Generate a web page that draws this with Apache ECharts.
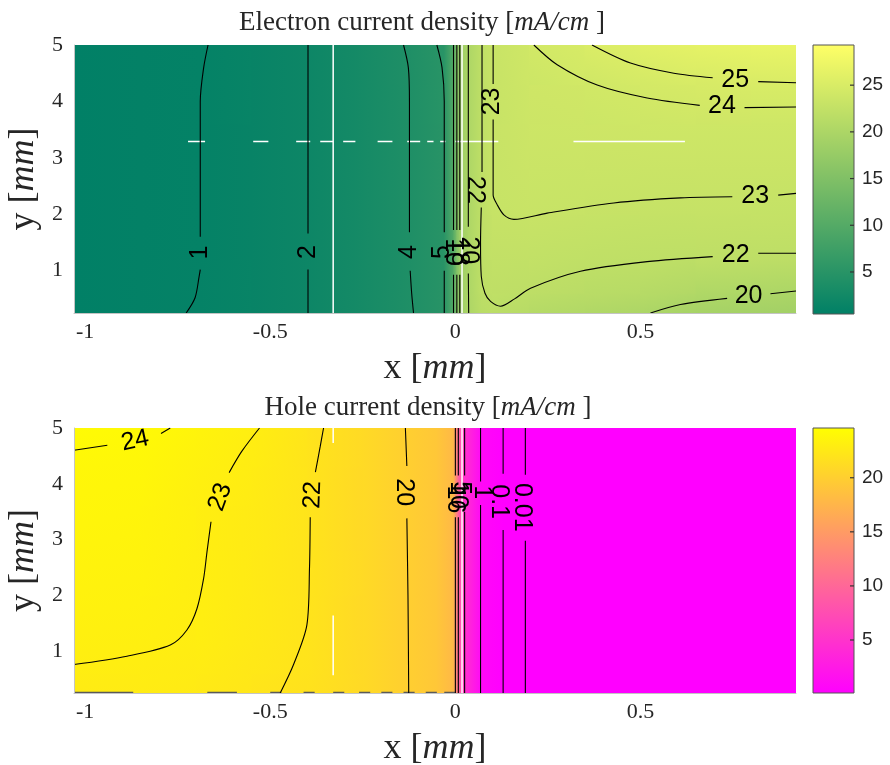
<!DOCTYPE html>
<html>
<head>
<meta charset="utf-8">
<title>Current density</title>
<style>
  html, body { margin: 0; padding: 0; background: #fff; }
  #main { width: 890px; height: 765px; }
</style>
</head>
<body>
<div id="main"></div>
<script src="https://cdn.jsdelivr.net/npm/echarts@6.0.0/dist/echarts.min.js"></script>
<script>
// ---------- electron current density ----------
var elecX = [-1.03, -0.85, -0.69, -0.55, -0.40, -0.26, -0.12, -0.03, -0.005, 0.004, 0.012, 0.035, 0.07, 0.10, 0.20, 0.35, 0.50, 0.65, 0.80, 0.92];
var elecY = [0.25, 0.6, 1.2, 2.0, 2.8, 3.6, 4.3, 5.0];
var elecZ = [
  [0.6, 0.8, 1.1, 1.4, 2.0, 2.9, 3.95, 5.0, 10, 15, 18, 20, 21.4, 21.7, 21.0, 20.5, 19.9, 19.3, 19.0, 18.8],
  [0.6, 0.8, 1.05, 1.4, 2.0, 2.9, 3.97, 5.0, 10, 15, 18, 20, 21.9, 22.1, 21.9, 21.4, 21.2, 20.4, 20.15, 19.9],
  [0.6, 0.8, 1.0, 1.4, 2.0, 2.9, 4.0, 5.0, 10, 15, 18, 20, 22.0, 22.4, 22.4, 22.2, 22.05, 21.98, 21.9, 21.85],
  [0.6, 0.8, 1.0, 1.4, 2.0, 2.9, 4.0, 5.0, 10, 15, 18, 20, 22.0, 22.9, 23.05, 22.9, 22.8, 22.75, 22.7, 22.65],
  [0.6, 0.8, 1.0, 1.4, 2.0, 2.9, 4.0, 5.0, 10, 15, 18, 20, 22.0, 23.0, 23.3, 23.3, 23.3, 23.3, 23.3, 23.28],
  [0.6, 0.8, 1.0, 1.4, 2.0, 2.9, 4.0, 5.0, 10, 15, 18, 20, 22.0, 23.0, 23.55, 23.65, 23.74, 23.8, 23.82, 23.8],
  [0.6, 0.8, 0.98, 1.4, 2.0, 2.9, 4.03, 5.02, 10, 15, 18, 20, 22.0, 23.0, 23.75, 23.97, 24.35, 24.7, 24.9, 24.93],
  [0.6, 0.8, 0.96, 1.4, 2.0, 2.9, 4.1, 5.1, 10, 15, 18, 20, 22.0, 23.1, 23.95, 24.95, 25.8, 26.4, 26.8, 27.0]
];
var elecRange = [0.5, 29.3];
var elecTicks = [5, 10, 15, 20, 25];

// contour lines, null = gap for the inline label
var eC1 = [[-0.668, 5.0], [-0.680, 4.59], [-0.689, 4.0], [-0.689, 1.6], null, [-0.689, 1.02], [-0.692, 0.9], [-0.703, 0.52], [-0.727, 0.25]];
var eC2 = [[-0.398, 5.0], [-0.398, 1.66], null, [-0.398, 1.02], [-0.398, 0.25]];
var eC4 = [[-0.14, 5.0], [-0.127, 4.6], [-0.124, 4.0], [-0.124, 1.68], null, [-0.122, 1.0], [-0.118, 0.6], [-0.113, 0.25]];
var eC5 = [[-0.05, 5.0], [-0.036, 4.6], [-0.03, 4.0], [-0.03, 1.68], null, [-0.03, 1.0], [-0.03, 0.25]];
var eC10 = [[-0.005, 5.0], [-0.005, 1.72], null, [-0.005, 0.93], [-0.005, 0.25]];
var eC15 = [[0.004, 5.0], [0.004, 1.72], null, [0.004, 0.93], [0.004, 0.25]];
var eC18 = [[0.012, 5.0], [0.012, 1.72], null, [0.012, 0.93], [0.012, 0.25]];
var eC20a = [[0.035, 5.0], [0.035, 1.78], null, [0.035, 0.95], [0.036, 0.25]];
var eC20b = [[0.527, 0.25], [0.608, 0.40], [0.734, 0.51], null, [0.851, 0.59], [0.92, 0.64]];
var eC22 = [[0.072, 5.0], [0.072, 2.75], null, [0.07, 2.12], [0.068, 1.5], [0.07, 0.9], [0.08, 0.6], [0.095, 0.455], [0.122, 0.37], [0.16, 0.5], [0.203, 0.69], [0.338, 0.99], [0.518, 1.16], [0.695, 1.25], null, [0.818, 1.31], [0.92, 1.31]];
var eC23 = [[0.102, 5.0], [0.102, 4.31], null, [0.102, 3.68], [0.102, 2.34], [0.113, 2.17], [0.131, 1.99], [0.158, 1.91], [0.248, 2.02], [0.428, 2.20], [0.608, 2.29], [0.748, 2.31], null, [0.872, 2.34], [0.92, 2.37]];
var eC24 = [[0.212, 5.0], [0.275, 4.65], [0.383, 4.29], [0.518, 4.06], [0.66, 3.93], null, [0.781, 3.89], [0.92, 3.90]];
var eC25 = [[0.369, 5.0], [0.473, 4.68], [0.59, 4.5], [0.695, 4.42], null, [0.818, 4.35], [0.92, 4.33]];
// [x, y, text, angle]
var eLabels = [
  [-0.689, 1.32, '1', 90], [-0.398, 1.33, '2', 90], [-0.124, 1.33, '4', 90], [-0.036, 1.33, '5', 90],
  [-0.006, 1.33, '10', -90], [0.010, 1.33, '18', -90], [0.036, 1.36, '20', -90],
  [0.054, 2.43, '22', -90], [0.100, 4.0, '23', 90],
  [0.756, 4.38, '25', 0], [0.72, 3.91, '24', 0], [0.81, 2.32, '23', 0], [0.757, 1.28, '22', 0], [0.792, 0.55, '20', 0]
];
// white rendering streaks seen in the original
var eWhite = [[-0.33, 0.25], [-0.33, 5.0], null, [0.018, 0.25], [0.018, 5.0]];
var eWhiteDash = [[-0.722, 3.29], [-0.676, 3.29], null, [-0.546, 3.29], [-0.505, 3.29], null, [-0.43, 3.29], [-0.392, 3.29], null,
  [-0.365, 3.29], [-0.33, 3.29], null, [-0.303, 3.29], [-0.27, 3.29], null, [-0.21, 3.29], [-0.17, 3.29], null,
  [-0.13, 3.29], [-0.095, 3.29], null, [-0.076, 3.29], [-0.059, 3.29], null, [-0.041, 3.29], [-0.027, 3.29], null,
  [0.0, 3.29], [0.116, 3.29], null, [0.319, 3.29], [0.62, 3.29]];

// ---------- hole current density ----------
var holeX = [-1.03, -0.85, -0.70, -0.55, -0.40, -0.25, -0.13, -0.05, -0.005, 0.0, 0.008, 0.025, 0.068, 0.129, 0.189, 0.30, 0.92];
var holeY = [0.25, 0.6, 1.2, 2.0, 2.8, 3.6, 4.3, 5.0];
var holeZ = [
  [22.75, 22.7, 22.55, 22.15, 21.75, 21.0, 20.0, 19.2, 17.8, 15, 10, 5, 1, 0.1, 0.01, 0, 0],
  [22.9, 22.85, 22.7, 22.35, 21.9, 21.0, 20.0, 19.2, 17.8, 15, 10, 5, 1, 0.1, 0.01, 0, 0],
  [23.15, 23.1, 22.95, 22.5, 21.98, 21.0, 20.0, 19.2, 17.8, 15, 10, 5, 1, 0.1, 0.01, 0, 0],
  [23.35, 23.3, 23.02, 22.55, 22.0, 21.0, 20.0, 19.2, 17.8, 15, 10, 5, 1, 0.1, 0.01, 0, 0],
  [23.5, 23.45, 23.05, 22.6, 22.0, 21.0, 20.0, 19.2, 17.8, 15, 10, 5, 1, 0.1, 0.01, 0, 0],
  [23.7, 23.6, 23.1, 22.65, 22.02, 21.0, 20.0, 19.2, 17.8, 15, 10, 5, 1, 0.1, 0.01, 0, 0],
  [23.85, 23.8, 23.3, 22.8, 22.05, 21.0, 20.0, 19.2, 17.8, 15, 10, 5, 1, 0.1, 0.01, 0, 0],
  [24.3, 24.1, 23.6, 23.0, 22.05, 21.0, 20.0, 19.2, 17.8, 15, 10, 5, 1, 0.1, 0.01, 0, 0]
];
var holeRange = [0.1, 24.6];
var holeTicks = [5, 10, 15, 20];

var hC24 = [[-1.03, 4.60], [-0.94, 4.69], null, [-0.795, 4.9], [-0.77, 5.0]];
var hC23 = [[-1.03, 0.76], [-0.887, 0.91], [-0.77, 1.11], [-0.725, 1.38], [-0.698, 1.76], [-0.68, 2.30], [-0.671, 2.77], [-0.66, 3.32], null, [-0.611, 4.2], [-0.577, 4.58], [-0.529, 5.0]];
var hC22 = [[-0.473, 0.25], [-0.437, 0.76], [-0.401, 1.47], [-0.394, 2.48], [-0.392, 3.4], null, [-0.378, 4.21], [-0.365, 4.67], [-0.356, 5.0]];
var hC20 = [[-0.135, 5.0], [-0.131, 4.32], null, [-0.131, 3.38], [-0.128, 2.0], [-0.126, 0.25]];
var hC15 = [[0.0, 5.0], [0.0, 4.15], null, [0.0, 3.4], [0.0, 0.25]];
var hC10 = [[0.008, 5.0], [0.008, 4.15], null, [0.008, 3.4], [0.008, 0.25]];
var hC5 = [[0.025, 5.0], [0.025, 4.15], null, [0.025, 3.5], [0.025, 0.25]];
var hC1 = [[0.068, 5.0], [0.068, 4.04], null, [0.068, 3.62], [0.068, 0.25]];
var hC01 = [[0.129, 5.0], [0.129, 4.18], null, [0.129, 3.17], [0.129, 0.25]];
var hC001 = [[0.189, 5.0], [0.189, 4.16], null, [0.189, 2.98], [0.189, 0.25]];
var hLabels = [
  [-0.865, 4.77, '24', 12], [-0.635, 3.76, '23', 70], [-0.385, 3.8, '22', 88], [-0.14, 3.85, '20', -90],
  [-0.002, 3.72, '16', -90], [0.014, 3.92, '5', -90], [0.006, 3.8, '10', -90],
  [0.072, 3.85, '1', -90], [0.117, 3.68, '0.1', -90], [0.18, 3.58, '0.01', -90]
];
var hWhite = [[0.018, 0.25], [0.018, 5.0], null, [-0.33, 0.57], [-0.33, 1.64], null, [-0.33, 4.73], [-0.33, 5.0]];
// dark dashes along the lower edge of the hole plot
var hEdgeDash = [[-1.03, 0.26], [-0.87, 0.26], null, [-0.67, 0.26], [-0.59, 0.26], null, [-0.50, 0.26], [-0.47, 0.26], null,
  [-0.41, 0.26], [-0.38, 0.26], null, [-0.33, 0.26], [-0.30, 0.26], null, [-0.26, 0.26], [-0.23, 0.26], null,
  [-0.20, 0.26], [-0.17, 0.26], null, [-0.14, 0.26], [-0.11, 0.26], null, [-0.08, 0.26], [-0.05, 0.26], null,
  [-0.03, 0.26], [0.0, 0.26]];

var xRange = [-1.03, 0.92];
var yRange = [0.25, 5.0];
var xTicks = [-1, -0.5, 0, 0.5];
var yTicks = [1, 2, 3, 4, 5];

// ---------- colormaps (MATLAB summer / spring) ----------
function clamp01(t) { return t < 0 ? 0 : (t > 1 ? 1 : t); }
function summer(range) {
  return function (v) {
    var t = clamp01((v - range[0]) / (range[1] - range[0]));
    return 'rgb(' + Math.round(255 * t) + ',' + Math.round(255 * (0.5 + 0.5 * t)) + ',102)';
  };
}
function spring(range) {
  return function (v) {
    var t = clamp01((v - range[0]) / (range[1] - range[0]));
    return 'rgb(255,' + Math.round(255 * t) + ',' + Math.round(255 * (1 - t)) + ')';
  };
}

function cellData(xs, ys) {
  var out = [];
  for (var j = 0; j < ys.length - 1; j++) {
    for (var i = 0; i < xs.length - 1; i++) {
      out.push([xs[i], ys[j], xs[i + 1], ys[j + 1], i, j]);
    }
  }
  return out;
}

// filled field: each cell painted with a linear gradient along the local slope
function fieldSeries(xs, ys, zs, cmap, idx) {
  return {
    type: 'custom', xAxisIndex: idx, yAxisIndex: idx, silent: true, animation: false, z: 1, clip: true,
    data: cellData(xs, ys),
    encode: { x: [0, 2], y: [1, 3] },
    renderItem: function (params, api) {
      var i = api.value(4), j = api.value(5);
      var tl = api.coord([api.value(0), api.value(3)]);
      var br = api.coord([api.value(2), api.value(1)]);
      var w = br[0] - tl[0], h = br[1] - tl[1];
      var a = zs[j][i], b = zs[j][i + 1], c = zs[j + 1][i], d = zs[j + 1][i + 1];
      var mid = (a + b + c + d) / 4;
      var gx = (b + d - a - c) / 2 / w;
      var gy = -(c + d - a - b) / 2 / h;
      var mag = Math.sqrt(gx * gx + gy * gy);
      var fill;
      if (mag < 1e-9) {
        fill = cmap(mid);
      } else {
        var dx = gx / mag, dy = gy / mag;
        var half = (Math.abs(dx) * w + Math.abs(dy) * h) / 2;
        fill = new echarts.graphic.LinearGradient(
          0.5 - dx * half / w, 0.5 - dy * half / h, 0.5 + dx * half / w, 0.5 + dy * half / h,
          [{ offset: 0, color: cmap(mid - mag * half) }, { offset: 1, color: cmap(mid + mag * half) }]);
      }
      return { type: 'rect', shape: { x: tl[0] - 0.5, y: tl[1] - 0.5, width: w + 1, height: h + 1 }, style: { fill: fill } };
    }
  };
}

function lineSeries(pts, idx, color, width, z) {
  return {
    type: 'line', xAxisIndex: idx, yAxisIndex: idx, data: pts, symbol: 'none', showSymbol: false,
    smooth: 0.3, silent: true, animation: false, z: z,
    lineStyle: { color: color, width: width }
  };
}

function labelSeries(labels, idx) {
  return {
    type: 'custom', xAxisIndex: idx, yAxisIndex: idx, silent: true, animation: false, z: 6, clip: false,
    data: labels.map(function (l, k) { return [l[0], l[1], k]; }),
    renderItem: function (params, api) {
      var l = labels[api.value(2)];
      var p = api.coord([api.value(0), api.value(1)]);
      return {
        type: 'text', x: p[0], y: p[1], rotation: l[3] * Math.PI / 180,
        style: {
          text: l[2], fill: '#000', fontFamily: 'Liberation Sans', fontSize: 25,
          align: 'center', verticalAlign: 'middle', textAlign: 'center', textVerticalAlign: 'middle'
        }
      };
    }
  };
}

// colour bar: gradient box with small inward ticks on its right edge
function colorbarSeries(range, ticks, cmap, idx) {
  return {
    type: 'custom', xAxisIndex: idx, yAxisIndex: idx, silent: true, animation: false, z: 1,
    data: [[0, range[0], 1, range[1]]],
    encode: { x: [0, 2], y: [1, 3] },
    renderItem: function (params, api) {
      var tl = api.coord([0, range[1]]), br = api.coord([1, range[0]]);
      var kids = [{
        type: 'rect',
        shape: { x: tl[0], y: tl[1], width: br[0] - tl[0], height: br[1] - tl[1] },
        style: {
          fill: new echarts.graphic.LinearGradient(0, 0, 0, 1, [
            { offset: 0, color: cmap(range[1]) }, { offset: 1, color: cmap(range[0]) }]),
          stroke: '#555', lineWidth: 1
        }
      }];
      ticks.forEach(function (t) {
        var y = api.coord([1, t])[1];
        kids.push({ type: 'line', shape: { x1: br[0] - 4, y1: y, x2: br[0], y2: y }, style: { stroke: '#333', lineWidth: 1.2 } });
      });
      return { type: 'group', children: kids };
    }
  };
}

var serif = 'Liberation Serif';
var ink = '#262626';
var nameStyle = {
  fontFamily: serif, fontSize: 36, color: ink,
  rich: { i: { fontFamily: serif, fontStyle: 'italic', fontSize: 36, color: ink } }
};

function mainX(idx) {
  return {
    gridIndex: idx, type: 'value', min: xRange[0], max: xRange[1], z: 10,
    axisLine: { show: true, onZero: false, lineStyle: { color: '#c4c4c4', width: 1 } },
    axisTick: { show: false }, splitLine: { show: false },
    axisLabel: { customValues: xTicks, fontFamily: serif, fontSize: 22, color: ink, margin: 8 },
    name: 'x [{i|mm}]', nameLocation: 'middle', nameGap: 38, nameTextStyle: nameStyle
  };
}
function mainY(idx) {
  return {
    gridIndex: idx, type: 'value', min: yRange[0], max: yRange[1], z: 10,
    axisLine: { show: true, onZero: false, lineStyle: { color: '#c4c4c4', width: 1 } },
    axisTick: { show: false }, splitLine: { show: false },
    axisLabel: { customValues: yTicks, fontFamily: serif, fontSize: 22, color: ink, margin: 11 },
    name: 'y [{i|mm}]', nameLocation: 'middle', nameGap: 27, nameRotate: 90, nameTextStyle: nameStyle
  };
}
function cbX(idx) {
  return {
    gridIndex: idx, type: 'value', min: 0, max: 1,
    axisLine: { show: false }, axisTick: { show: false }, axisLabel: { show: false }, splitLine: { show: false }
  };
}
function cbY(idx, range, ticks) {
  return {
    gridIndex: idx, type: 'value', min: range[0], max: range[1], position: 'right', z: 10,
    axisLine: { show: false, onZero: false }, splitLine: { show: false },
    axisTick: { show: false }, minorTick: { show: false },
    axisLabel: { customValues: ticks, fontFamily: 'Liberation Sans', fontSize: 19, color: ink, margin: 8 }
  };
}

var chart = echarts.init(document.getElementById('main'), null, { renderer: 'canvas' });

var series = [
  fieldSeries(elecX, elecY, elecZ, summer(elecRange), 0),
  lineSeries(eWhite, 0, '#ffffff', 1.5, 2),
  lineSeries(eWhiteDash, 0, '#ffffff', 1.5, 2)
];
[eC1, eC2, eC4, eC5, eC10, eC15, eC18, eC20a, eC20b, eC22, eC23, eC24, eC25].forEach(function (c) {
  series.push(lineSeries(c, 0, '#000', 1.1, 4));
});
series.push(labelSeries(eLabels, 0));
series.push(colorbarSeries(elecRange, elecTicks, summer(elecRange), 1));

series.push(fieldSeries(holeX, holeY, holeZ, spring(holeRange), 2));
series.push(lineSeries(hWhite, 2, '#ffffff', 1.5, 2));
series.push(lineSeries(hEdgeDash, 2, '#5a5a5a', 1.6, 3));
[hC24, hC23, hC22, hC20, hC15, hC10, hC5, hC1, hC01, hC001].forEach(function (c) {
  series.push(lineSeries(c, 2, '#000', 1.1, 4));
});
series.push(labelSeries(hLabels, 2));
series.push(colorbarSeries(holeRange, holeTicks, spring(holeRange), 3));

var gridBase = { containLabel: false, outerBoundsMode: 'none' };
function grid(l, t, w, h) {
  return Object.assign({ left: l, top: t, width: w, height: h }, gridBase);
}

chart.setOption({
  backgroundColor: '#ffffff',
  animation: false,
  grid: [grid(74, 45, 722, 268), grid(813, 45, 41, 269), grid(74, 428, 722, 265), grid(813, 428, 41, 265)],
  xAxis: [mainX(0), cbX(1), mainX(2), cbX(3)],
  yAxis: [mainY(0), cbY(1, elecRange, elecTicks), mainY(2), cbY(3, holeRange, holeTicks)],
  graphic: [
    {
      type: 'text', x: 422, y: 23, silent: true,
      style: {
        text: 'Electron current density [{i|mA/cm} ]', fill: ink, fontFamily: serif, fontSize: 27,
        align: 'center', verticalAlign: 'middle',
        rich: { i: { fontFamily: serif, fontStyle: 'italic', fontSize: 27, fill: ink } }
      }
    },
    {
      type: 'text', x: 428, y: 408, silent: true,
      style: {
        text: 'Hole current density [{i|mA/cm} ]', fill: ink, fontFamily: serif, fontSize: 27,
        align: 'center', verticalAlign: 'middle',
        rich: { i: { fontFamily: serif, fontStyle: 'italic', fontSize: 27, fill: ink } }
      }
    }
  ],
  series: series
});
</script>
</body>
</html>
